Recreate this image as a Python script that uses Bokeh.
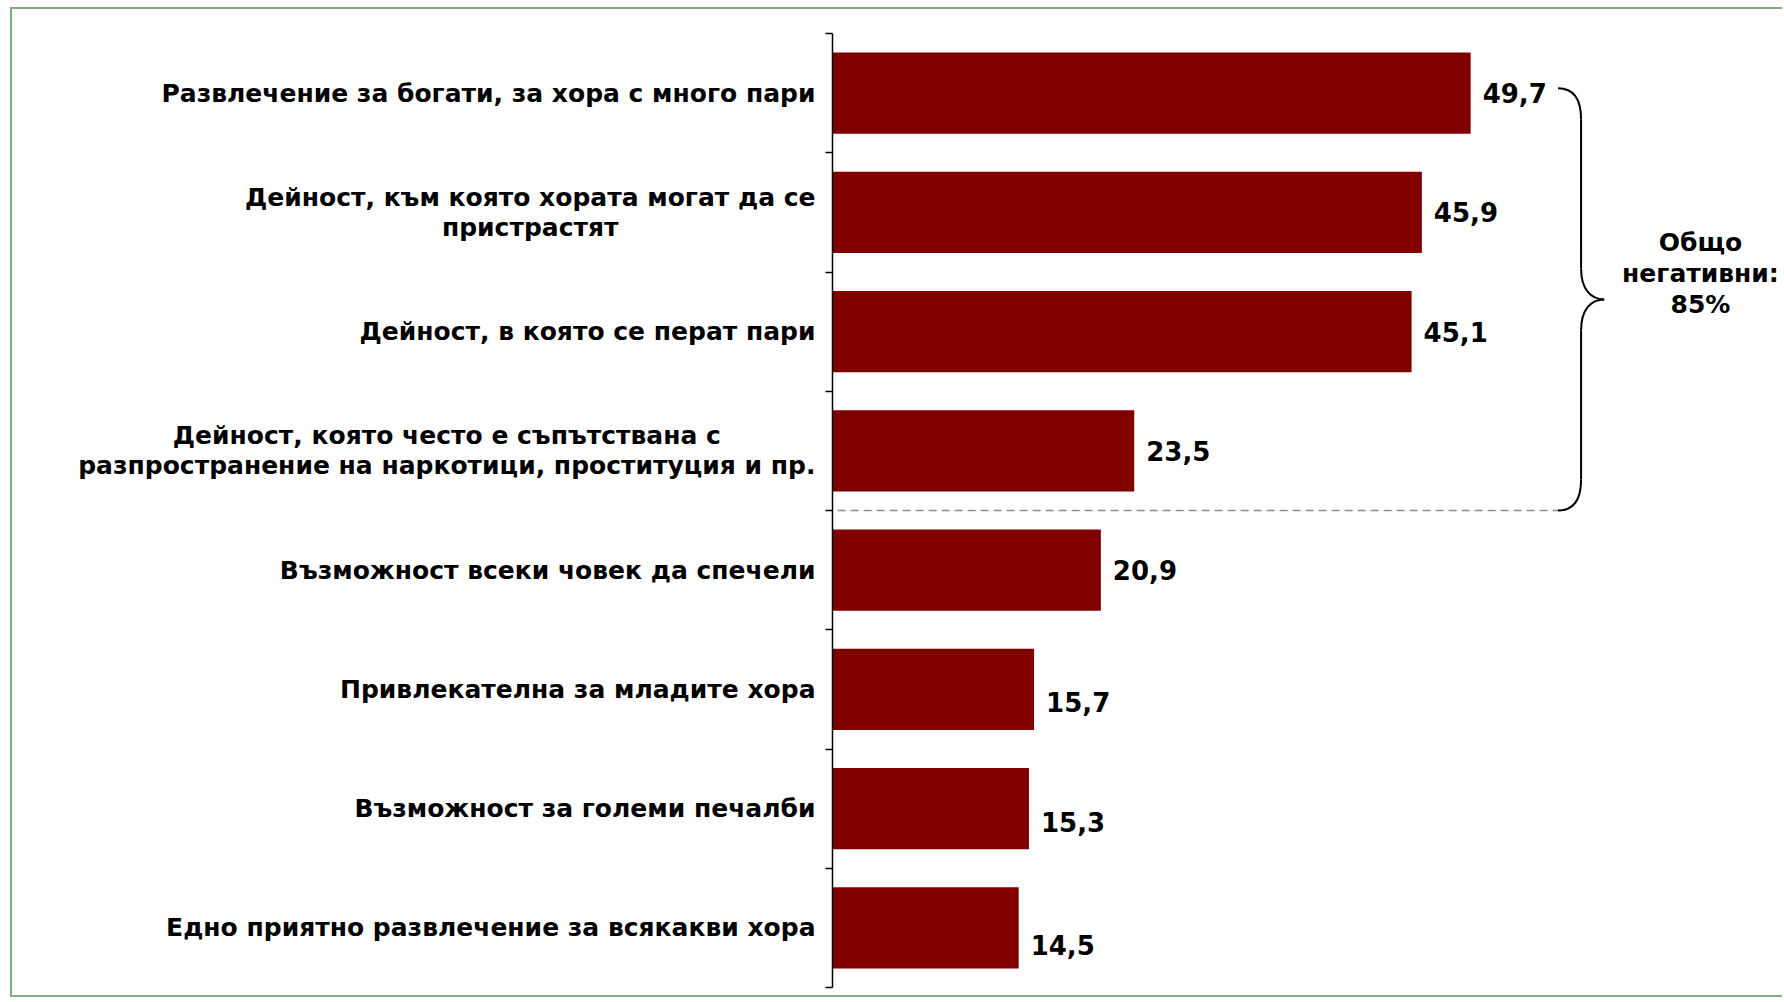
from bokeh.plotting import figure
from bokeh.models import Range1d, LinearAxis, FixedTicker, ColumnDataSource
from bokeh.embed import file_html
from bokeh.resources import INLINE
from bokeh.core.properties import value

# ---- data ----
categories = [
    "Развлечение за богати, за хора с много пари",
    "Дейност, към която хората могат да се\nпристрастят",
    "Дейност, в която се перат пари",
    "Дейност, която често е съпътствана с\nразпространение на наркотици, проституция и пр.",
    "Възможност всеки човек да спечели",
    "Привлекателна за младите хора",
    "Възможност за големи печалби",
    "Едно приятно развлечение за всякакви хора",
]
values = [49.7, 45.9, 45.1, 23.5, 20.9, 15.7, 15.3, 14.5]
group_label = "Общо\nнегативни:\n85%"
negative_count = 4

# ---- styles ----
BAR = "#800000"
FONT = "DejaVu Sans"
GREEN = "#7DB07D"
label_dy = [0, 0, 0, 0, 0, 13, 13, 17]

n = len(categories)
ys = [n - 1 - i for i in range(n)]
labels = [f"{v:.1f}".replace(".", ",") for v in values]
sep = n - negative_count - 0.5

W, H = 1772, 990
PX_X = 12.84     # pixels per percent
PX_Y = 119.25    # pixels per category
AXIS_PX = 820    # axis position from the canvas left
TOP_PAD, BOT_PAD = 24, 12

p = figure(width=W, height=H,
           x_range=Range1d(-AXIS_PX / PX_X, (W - AXIS_PX) / PX_X),
           y_range=Range1d(-0.5 - BOT_PAD / PX_Y, n - 0.5 + TOP_PAD / PX_Y),
           x_axis_type=None, y_axis_type=None,
           toolbar_location=None, output_backend="svg",
           min_border=0)
p.outline_line_color = None
p.background_fill_color = "white"
p.border_fill_color = "white"
p.styles = {"margin-left": "10px", "margin-top": "7px",
            "border-left": f"2px solid {GREEN}",
            "border-top": f"2px solid {GREEN}",
            "border-bottom": f"2px solid {GREEN}"}

yaxis = LinearAxis(fixed_location=0, bounds=(-0.5, n - 0.5),
                   ticker=FixedTicker(ticks=[], minor_ticks=[k - 0.5 for k in range(n + 1)]))
yaxis.major_tick_out = 0
yaxis.major_tick_in = 0
yaxis.minor_tick_out = 7
yaxis.minor_tick_in = 0
yaxis.minor_tick_line_color = "black"
yaxis.minor_tick_line_width = 1.5
yaxis.axis_line_color = "black"
yaxis.axis_line_width = 1.5
p.add_layout(yaxis, "left")

src = ColumnDataSource(dict(y=ys, v=values, lab=labels, dy=label_dy, cat=categories))
p.hbar(y="y", right="v", left=0, height=0.68, source=src,
       fill_color=BAR, line_color=None)
p.text(x=0, y="y", text="cat", source=src, x_offset=-17,
       text_font=value(FONT), text_font_style="bold", text_font_size="25px",
       text_color="black", text_align="center", anchor="center_right",
       text_line_height=1.03)
p.text(x="v", y="y", text="lab", source=src, x_offset=12, y_offset="dy",
       text_font=value(FONT), text_font_style="bold", text_font_size="26px",
       text_color="black", text_align="left", text_baseline="middle")

# separator and brace
bx0, bx1, bx2 = 56.5, 58.3, 60.1
top = ys[0] + 0.04
bot = sep
mid = (top + bot) / 2
r = 0.26
p.line(x=[0.4, bx0], y=[sep, sep], line_dash="8 5", line_color="#8C8C8C", line_width=1.5)
p.bezier(x0=[bx0, bx1, bx2, bx1], y0=[top, mid + r, mid, bot + r],
         x1=[bx1, bx2, bx1, bx0], y1=[top - r, mid, mid - r, bot],
         cx0=[bx0 + 1.2, bx1, bx1 + 0.8, bx1], cy0=[top, mid + 0.08, mid, bot + 0.08],
         cx1=[bx1, bx1 + 0.8, bx1, bx0 + 1.2], cy1=[top - 0.08, mid, mid - 0.08, bot],
         line_color="black", line_width=2)
p.segment(x0=[bx1, bx1], y0=[top - r, mid - r], x1=[bx1, bx1], y1=[mid + r, bot + r],
          line_color="black", line_width=2)

p.text(x=[67.6], y=[mid + 0.22], text=[group_label],
       text_font=value(FONT), text_font_style="bold", text_font_size="25px",
       text_color="black", text_align="center", text_baseline="middle",
       text_line_height=1.065)

open("out.html", "w").write(file_html(p, INLINE))
